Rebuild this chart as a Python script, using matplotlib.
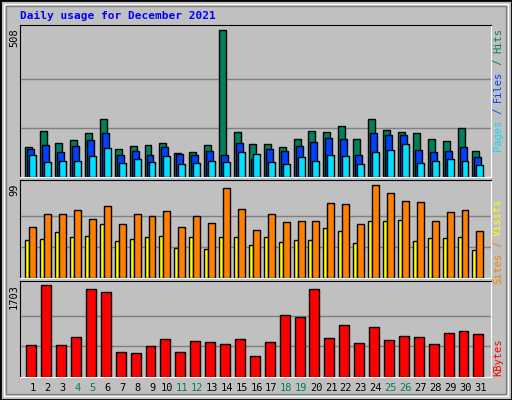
import numpy as np
import matplotlib.pyplot as plt
import matplotlib.patches as patches

days = np.arange(1, 32)
hits = [104, 159, 118, 128, 152, 200, 97, 108, 111, 118, 84, 87, 111, 508, 156, 115, 115, 104, 132, 159, 156, 177, 132, 200, 163, 156, 152, 132, 125, 170, 91]
files = [97, 111, 87, 108, 128, 152, 77, 91, 77, 104, 80, 77, 91, 77, 118, 63, 97, 91, 108, 121, 135, 132, 77, 152, 145, 145, 94, 87, 91, 104, 70]
pages = [77, 53, 56, 56, 74, 101, 49, 63, 53, 74, 46, 49, 56, 53, 87, 80, 53, 46, 70, 56, 77, 74, 46, 87, 94, 115, 49, 56, 63, 56, 43]
visits = [54, 68, 68, 72, 63, 76, 57, 68, 66, 71, 54, 66, 58, 96, 73, 51, 68, 59, 60, 61, 80, 79, 57, 99, 90, 82, 81, 60, 70, 72, 50]
sites = [40, 41, 49, 43, 45, 57, 39, 41, 43, 45, 32, 43, 31, 43, 44, 35, 43, 38, 40, 40, 53, 50, 37, 60, 61, 62, 39, 42, 42, 43, 30]
kbytes = [599, 1703, 599, 749, 1628, 1572, 468, 449, 580, 705, 468, 668, 649, 612, 705, 387, 649, 1154, 1117, 1640, 730, 973, 636, 936, 692, 767, 749, 612, 818, 855, 798]
weekend = [4, 5, 11, 12, 18, 19, 25, 26]

BG = '#c0c0c0'
GRID = '#808080'
W, H = 512, 400
fig = plt.figure(figsize=(W / 100, H / 100), dpi=100, facecolor=BG)

# outer bevel
fig.patches.append(patches.Rectangle((0, 0), 1, 1, transform=fig.transFigure, fill=False, ec='black', lw=2))
fig.patches.append(patches.Rectangle((4 / W, 4 / H), 1 - 8 / W, 1 - 8 / H, transform=fig.transFigure, fill=False, ec='white', lw=1))
fig.patches.append(patches.Rectangle((6 / W, 6 / H), 1 - 12 / W, 1 - 12 / H, transform=fig.transFigure, fill=False, ec='#808080', lw=1))

def panel(top, bottom, ymax, top_val):
    ax = fig.add_axes([20 / W, 1 - bottom / H, 471 / W, (bottom - top) / H])
    ax.set_facecolor(BG)
    ax.set_xlim(0.133, 31.73)
    ax.set_ylim(0, ymax)
    for g in (top_val / 3, 2 * top_val / 3):
        ax.axhline(g, color=GRID, lw=1, zorder=0)
    ax.set_xticks([])
    ax.set_yticks([])
    for s in ax.spines.values():
        s.set_color('black')
    ax.spines['right'].set_color('white')
    ax.spines['bottom'].set_color('white')
    return ax

kw = dict(edgecolor='black', linewidth=1, zorder=2)
mono = 'DejaVu Sans Mono'

ax1 = panel(25, 177, 524, 508)
ax1.bar(days - 0.28, hits, width=0.467, color='#00805c', **kw)
ax1.bar(days - 0.147, files, width=0.467, color='#0040ff', **kw)
ax1.bar(days - 0.013, pages, width=0.467, color='#00e0ff', **kw)

ax2 = panel(180, 278, 104, 99)
ax2.bar(days - 0.38, sites, width=0.267, color='#ffff00', **kw)
ax2.bar(days - 0.013, visits, width=0.467, color='#ff8000', **kw)

ax3 = panel(281, 377, 1783, 1703)
ax3.bar(days - 0.113, kbytes, width=0.667, color='#ff0000', **kw)

# day labels
for d in days:
    ax3.text(d, -0.06, str(d), transform=ax3.get_xaxis_transform(), ha='center', va='top',
             fontsize=7.5, family=mono, color='#00805c' if d in weekend else 'black')

fig.text(20 / W, 1 - 16 / H, 'Daily usage for December 2021', color='#0000ff',
         family=mono, fontweight='bold', fontsize=8, va='center')

# left max labels
for y, t in ((28, '508'), (184, '99'), (284, '1703')):
    fig.text(14 / W, 1 - y / H, t, rotation=90, ha='center', va='top', fontsize=7.5, family=mono)

# right labels, reading bottom to top, placed from the top down
def right_label(y0, parts):
    y = y0
    for t, c in parts:
        fig.text(498 / W, 1 - y / H, t, rotation=90, ha='center', va='top', color=c, fontsize=7.5, family=mono)
        y += len(t) * 6.1
right_label(28, [('Hits', '#00805c'), (' / ', '#00805c'), ('Files', '#0040ff'), (' / ', '#0040ff'), ('Pages', '#00e0ff')])
right_label(198, [('Visits', '#ffff00'), (' / ', '#ff8000'), ('Sites', '#ff8000')])
right_label(338, [('KBytes', '#ff0000')])

fig.savefig('out.png', dpi=100, facecolor=BG)
